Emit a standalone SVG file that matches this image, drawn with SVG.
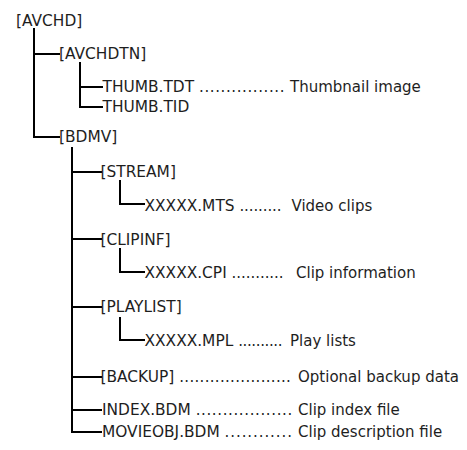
<svg xmlns="http://www.w3.org/2000/svg" width="467" height="450" viewBox="0 0 467 450">
<style>
text{font-family:"DejaVu Sans","Liberation Sans",sans-serif;font-size:15.4px;fill:#1e1e1e}
.d{font-size:15px}
.c path{stroke:#000;stroke-width:2;fill:none}
</style>
<rect width="467" height="450" fill="#fff"/>
<g class="c" id="connectors">
<path d="M34 28V137H60M34 54H60"/>
<path d="M80 62V107H103M80 87H103"/>
<path d="M72 147V432H102M72 172H102M72 239H102M72 307H102M72 377H102M72 410H102"/>
<path d="M120 180V204H145"/>
<path d="M120 248V272H145"/>
<path d="M120 317V340H145"/>
</g>
<g id="avchd"><text x="16" y="26">[AVCHD]</text></g>
<g id="avchdtn"><text x="59" y="58.5">[AVCHDTN]</text></g>
<g id="thumb-tdt"><text x="102.5" y="92">THUMB.TDT <tspan class="d" textLength="85.5">................</tspan> <tspan class="d" x="290">Thumbnail image</tspan></text></g>
<g id="thumb-tid"><text x="102.5" y="112">THUMB.TID</text></g>
<g id="bdmv"><text x="59" y="142">[BDMV]</text></g>
<g id="stream"><text x="100.5" y="176.5">[STREAM]</text></g>
<g id="mts"><text x="144.5" y="210.5">XXXXX.MTS <tspan class="d" textLength="42.1">.........</tspan> <tspan class="d" x="291.5">Video clips</tspan></text></g>
<g id="clipinf"><text x="100.5" y="244.5">[CLIPINF]</text></g>
<g id="cpi"><text x="144.5" y="278">XXXXX.CPI <tspan class="d" textLength="52">...........</tspan> <tspan class="d" x="296">Clip information</tspan></text></g>
<g id="playlist"><text x="100.5" y="312">[PLAYLIST]</text></g>
<g id="mpl"><text x="144.5" y="346">XXXXX.MPL <tspan class="d" textLength="44.4">..........</tspan> <tspan class="d" x="290">Play lists</tspan></text></g>
<g id="backup"><text x="100.5" y="381.5">[BACKUP] <tspan class="d" textLength="111.7">......................</tspan> <tspan class="d" x="298">Optional backup data</tspan></text></g>
<g id="index"><text x="102" y="415">INDEX.BDM <tspan class="d" textLength="96.6">..................</tspan> <tspan class="d" x="298">Clip index file</tspan></text></g>
<g id="movieobj"><text x="102" y="437">MOVIEOBJ.BDM <tspan class="d" textLength="67.3">............</tspan> <tspan class="d" x="298">Clip description file</tspan></text></g>
</svg>
